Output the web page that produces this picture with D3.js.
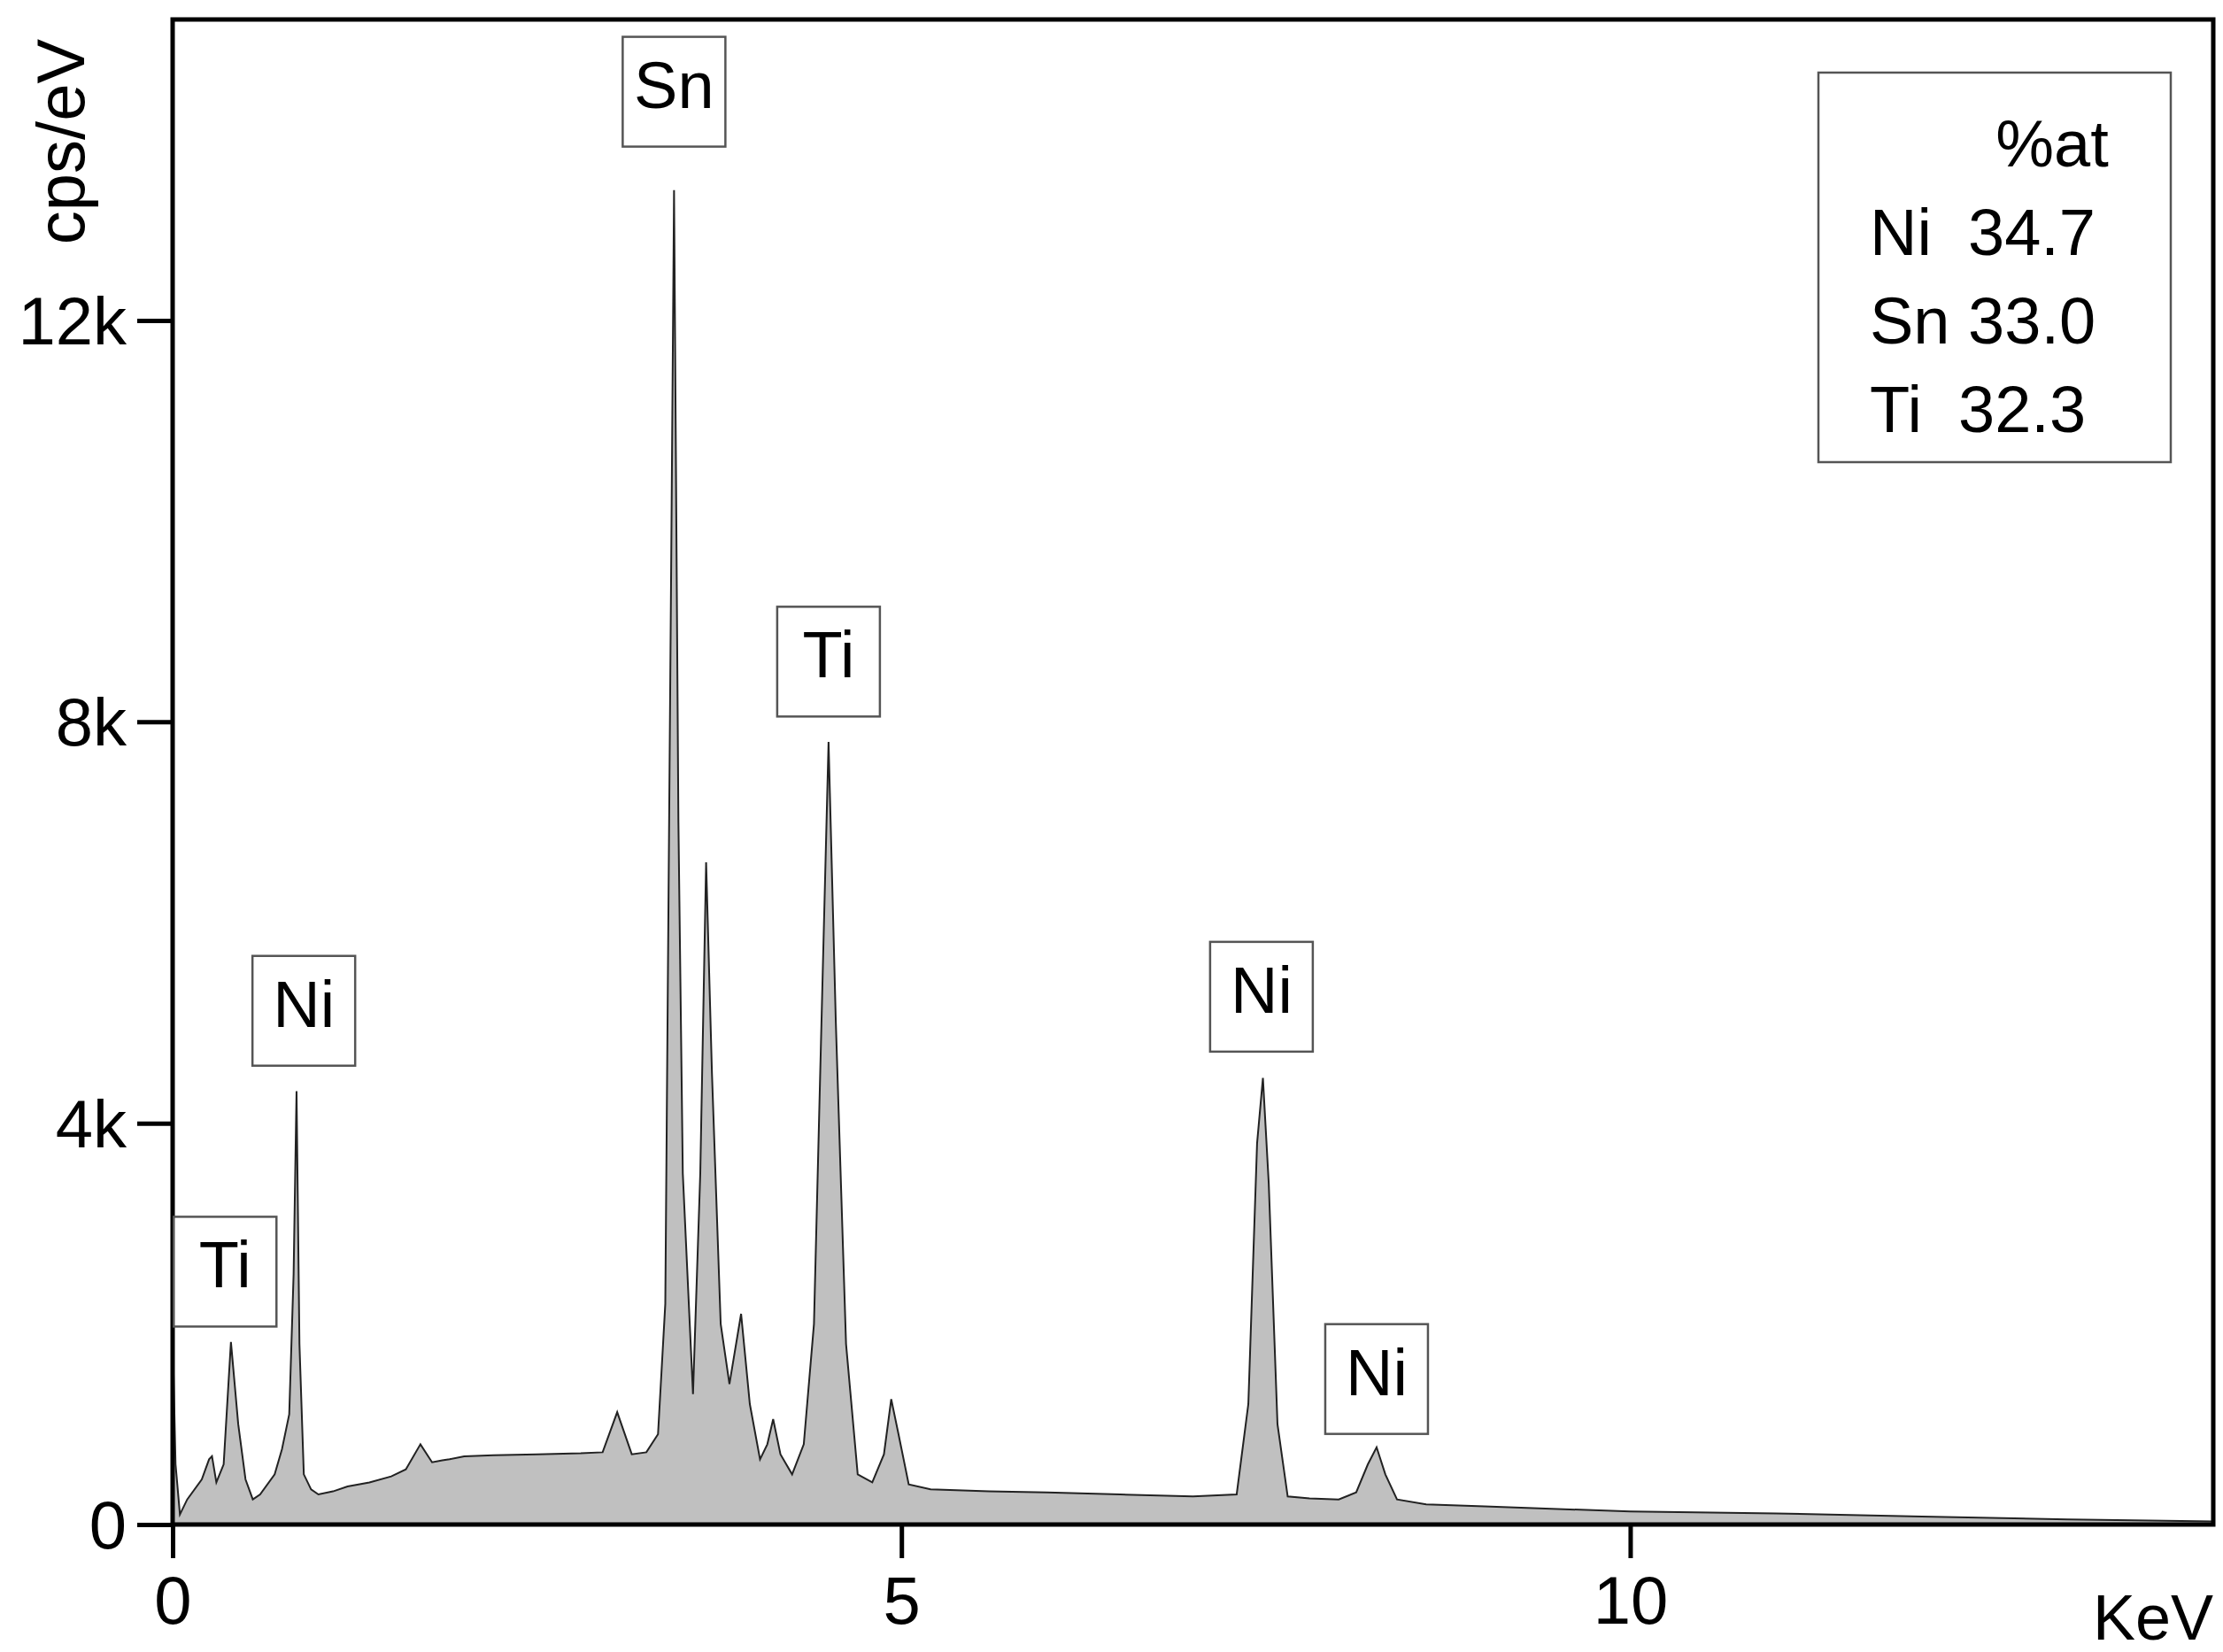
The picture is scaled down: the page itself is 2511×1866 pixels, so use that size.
<!DOCTYPE html>
<html>
<head>
<meta charset="utf-8">
<script src="https://cdn.jsdelivr.net/npm/d3@7"></script>
<style>
  body { margin: 0; background: #fff; }
  text { font-family: Arial, "Liberation Sans", sans-serif; fill: #000; }
</style>
</head>
<body>
<div id="chart"></div>
<script>
const WIDTH = 2511;
const HEIGHT = 1866;
const M = { left: 195, right: 11, top: 22, bottom: 144 };

// spectrum: energy (keV) and counts (cps/eV)
const energy = [0, 0.02, 0.05, 0.1, 0.2, 0.25, 0.27, 0.3, 0.35, 0.4, 0.45, 0.5, 0.55, 0.6, 0.7, 0.75, 0.8, 0.83, 0.85, 0.87, 0.9, 0.95, 1.0,
  1.1, 1.2, 1.35, 1.5, 1.6, 1.7, 1.78, 1.85, 1.9, 2.0, 2.2, 2.5, 2.8, 2.95, 3.05, 3.15, 3.25, 3.33, 3.38, 3.42, 3.44, 3.47, 3.5, 3.57,
  3.62, 3.66, 3.7, 3.76, 3.82, 3.9, 3.96, 4.03, 4.08, 4.12, 4.17, 4.25, 4.33, 4.4, 4.46, 4.5, 4.55, 4.62, 4.7, 4.8, 4.88, 4.93, 4.98, 5.05,
  5.2, 5.6, 6.0, 6.5, 7.0, 7.3, 7.38, 7.44, 7.48, 7.52, 7.58, 7.65, 7.8, 8.0, 8.12, 8.2, 8.26, 8.32, 8.4, 8.6, 9.0, 10.0, 11.0, 12.0, 13.0, 14.0];
const counts = [1900, 600, 100, 250, 450, 650, 680, 420, 600, 1820, 1000, 450, 250, 300, 500, 750, 1100, 2500, 4320, 1800, 500, 350, 300,
  330, 380, 420, 480, 550, 800, 620, 640, 650, 680, 690, 700, 710, 720, 1120, 700, 720, 900, 2200, 9500, 13300, 7000, 3500, 1300,
  3500, 6600, 4500, 2000, 1400, 2100, 1200, 650, 800, 1050, 700, 500, 800, 2000, 5500, 7800, 5000, 1800, 500, 420, 700, 1250, 900, 400,
  350, 330, 320, 300, 280, 300, 1200, 3800, 4450, 3400, 1000, 280, 260, 250, 320, 600, 770, 500, 250, 200, 180, 130, 110, 80, 50, 30];

// element labels: name, box centre (keV, counts)
const peakNames = ["Ti", "Ni", "Sn", "Ti", "Ni", "Ni"];
const peakX = [0.36, 0.9, 3.44, 4.5, 7.47, 8.26];
const peakY = [2520, 5120, 14280, 8600, 5260, 1450];

const legendRows = ["%at", "Ni  34.7", "Sn 33.0", "Ti  32.3"];

const xTicks = [0, 5, 10];
const yTicks = [0, 4000, 8000, 12000];
const yTickLabels = ["0", "4k", "8k", "12k"];

const svg = d3.select("#chart").append("svg")
  .attr("width", WIDTH).attr("height", HEIGHT);

const x = d3.scaleLinear().domain([0, 14]).range([M.left, WIDTH - M.right]);
const y = d3.scaleLinear().domain([0, 15000]).range([HEIGHT - M.bottom, M.top]);

const pts = energy.map((e, i) => [e, counts[i]]);

svg.append("path").datum(pts)
  .attr("fill", "#c0c0c0")
  .attr("d", d3.area().x(d => x(d[0])).y0(y(0)).y1(d => y(d[1])));
svg.append("path").datum(pts)
  .attr("fill", "none").attr("stroke", "#222").attr("stroke-width", 2)
  .attr("d", d3.line().x(d => x(d[0])).y(d => y(d[1])));

// frame
svg.append("rect")
  .attr("x", x(0)).attr("y", y(15000))
  .attr("width", x(14) - x(0)).attr("height", y(0) - y(15000))
  .attr("fill", "none").attr("stroke", "#000").attr("stroke-width", 5);

// x axis
const xAx = svg.append("g").attr("transform", `translate(0,${y(0)})`)
  .call(d3.axisBottom(x).tickValues(d3.range(0, 15)).tickSize(22).tickFormat(""));
xAx.call(d3.axisBottom(x).tickValues(xTicks).tickSize(38).tickFormat(d3.format("d")).tickPadding(20));
xAx.selectAll(".domain").remove();
xAx.selectAll("line").attr("stroke-width", 5);
xAx.selectAll("text").attr("font-size", 76);

// y axis
const yAx = svg.append("g").attr("transform", `translate(${x(0)},0)`)
  .call(d3.axisLeft(y).tickValues(d3.range(0, 15001, 2000)).tickSize(22).tickFormat(""));
yAx.call(d3.axisLeft(y).tickValues(yTicks).tickSize(40).tickFormat((d, i) => yTickLabels[i]).tickPadding(12));
yAx.selectAll(".domain").remove();
yAx.selectAll("line").attr("stroke-width", 5);
yAx.selectAll("text").attr("font-size", 76).attr("dy", "0.35em");

svg.append("text").attr("transform", "translate(95,160) rotate(-90)")
  .attr("text-anchor", "middle").attr("font-size", 76).text("cps/eV");
svg.append("text").attr("x", 2500).attr("y", 1852)
  .attr("text-anchor", "end").attr("font-size", 72).text("KeV");

// peak labels
peakNames.forEach((n, i) => {
  const g = svg.append("g").attr("transform", `translate(${x(peakX[i])},${y(peakY[i])})`);
  g.append("rect").attr("x", -58).attr("y", -62).attr("width", 116).attr("height", 124)
    .attr("fill", "#fff").attr("stroke", "#555").attr("stroke-width", 2.5);
  g.append("text").attr("text-anchor", "middle").attr("y", -8)
    .attr("dy", "0.35em").attr("font-size", 74).text(n);
});

// composition box
svg.append("rect").attr("x", 2054).attr("y", 82).attr("width", 398).attr("height", 440)
  .attr("fill", "#fff").attr("stroke", "#555").attr("stroke-width", 2.5);
legendRows.forEach((r, i) => {
  svg.append("text").attr("x", i === 0 ? 2318 : 2112).attr("y", 188 + i * 100)
    .attr("text-anchor", i === 0 ? "middle" : "start")
    .attr("font-size", 74).attr("xml:space", "preserve").style("white-space", "pre").text(r);
});
</script>
</body>
</html>
